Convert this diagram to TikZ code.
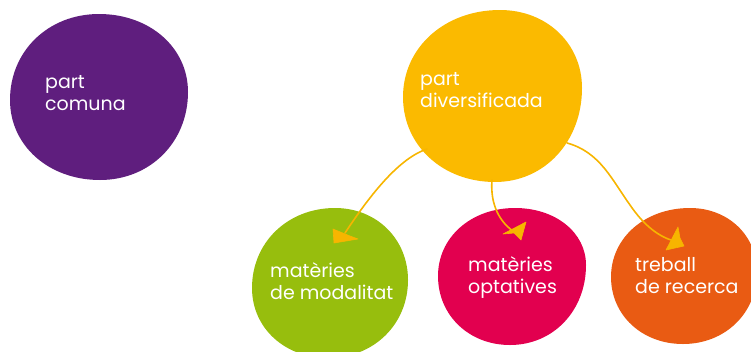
\documentclass[tikz,border=0pt]{standalone}
\usepackage{fontspec}
\setmainfont{Poppins}
\definecolor{cpurple}{HTML}{5F1E7E}
\definecolor{cyellow}{HTML}{FBBA00}
\definecolor{cline}{HTML}{F7B500}
\definecolor{cgreen}{HTML}{97BE0D}
\definecolor{cmagenta}{HTML}{E2004F}
\definecolor{corange}{HTML}{E95B13}
\def\kk{0.57}
% blob through top, right, bottom, left extreme points
\newcommand\myblob[9]{\fill[#1] (#2,#3) .. controls ({#2+\kk*(#4-#2)},#3) and (#4,{#5-\kk*(#5-#3)}) .. (#4,#5)
  .. controls (#4,{#5+\kk*(#7-#5)}) and ({#6+\kk*(#4-#6)},#7) .. (#6,#7)
  .. controls ({#6-\kk*(#6-#8)},#7) and (#8,{#9+\kk*(#7-#9)}) .. (#8,#9)
  .. controls (#8,{#9-\kk*(#9-#3)}) and ({#2-\kk*(#2-#8)},#3) .. cycle;}
\tikzset{
  lbl/.style={text=white, align=left, anchor=base west, inner sep=0pt,
    font=\fontsize{19}{22}\selectfont},
  conn/.style={draw=cline, line width=1.6pt, line cap=round},
  tip/.style={fill=cline, draw=cline, line width=0.6pt, line join=round}
}
\begin{document}
\begin{tikzpicture}[x=1pt,y=-1pt]
\useasboundingbox (0,0) rectangle (751,351);
% blobs
\myblob{cpurple}{99}{14}{188}{92}{100}{180}{10}{100}
\myblob{cyellow}{500}{10}{582}{88}{495}{182}{403}{97}
\myblob{cgreen}{335}{208}{408}{280}{328}{358}{252}{288}
\myblob{cmagenta}{515}{208}{586}{265}{510}{345}{438}{276}
\myblob{corange}{690}{208}{757}{272}{683}{344}{611}{277}
% labels
\node[lbl] (comuna) at (45,110) {part\\comuna};
\node[lbl] (divers) at (420,107) {part\\diversificada};
\node[lbl] (modal) at (270,299) {matèries\\de modalitat};
\node[lbl] (optat) at (468,293) {matèries\\optatives};
\node[lbl] (recerca) at (635,293) {treball\\de recerca};
% connector ends
\coordinate (s1) at (427,149);
\coordinate (e1) at (345,233);
\coordinate (s2) at (492,180);
\coordinate (e2) at (513,231);
\coordinate (s3) at (567,143);
\coordinate (m3) at (630,205);
\coordinate (e3) at (674,241);
\draw[conn] (s1) .. controls (400,158) and (372,192) .. (e1);
\draw[conn] (s2) .. controls (490,205) and (500,222) .. (e2);
\draw[conn] (s3) .. controls (600,152) and (612,180) .. (m3) .. controls (645,227) and (660,237) .. (e3);
% arrow tips
\filldraw[tip] (333,229) -- (334,243) -- (358,239) -- (350,236) -- cycle;
\filldraw[tip] (503,234) -- (526,222) -- (521,240) -- (514,233) -- cycle;
\filldraw[tip] (678,227) -- (666,250) -- (684,246) -- (680,238) -- cycle;
\end{tikzpicture}
\end{document}
